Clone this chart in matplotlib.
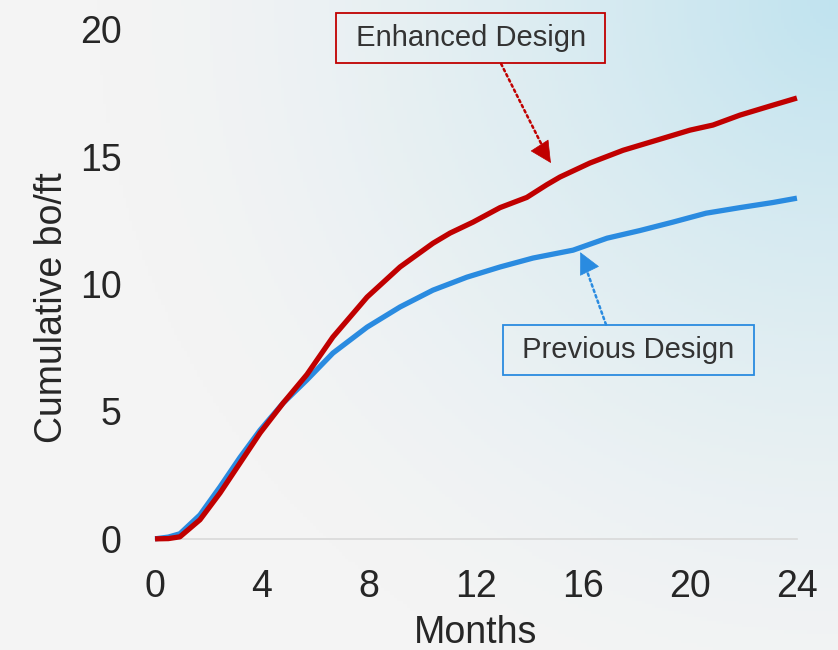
import numpy as np
import matplotlib.pyplot as plt
from matplotlib.colors import to_rgb

# cumulative production (months, bo/ft)
enh_months = [0, 0.5, 0.93, 1.68, 2.43, 3.18, 3.93, 4.79, 5.68, 6.65, 7.93, 9.16, 10.39, 11.03, 11.89,
              12.9, 13.9, 14.65, 15.14, 16.26, 17.5, 18.77, 20.0, 20.86, 21.87, 23.1, 24]
enhanced = [0, 0.01, 0.08, 0.75, 1.8, 2.98, 4.16, 5.33, 6.45, 7.92, 9.49, 10.67, 11.6, 12.0, 12.43,
            13.0, 13.4, 13.9, 14.2, 14.75, 15.25, 15.65, 16.04, 16.24, 16.63, 17.02, 17.3]
prev_months = [0, 0.5, 0.93, 1.68, 2.43, 3.18, 3.93, 4.79, 5.68, 6.65, 7.93, 9.16, 10.39, 11.66,
               12.9, 14.13, 15.63, 16.9, 18.13, 19.36, 20.6, 21.87, 23.1, 24]
previous = [0, 0.07, 0.2, 0.94, 2.04, 3.2, 4.27, 5.33, 6.24, 7.29, 8.31, 9.1, 9.76, 10.27,
            10.67, 11.02, 11.33, 11.8, 12.1, 12.43, 12.78, 13.0, 13.2, 13.37]

RED = '#C00000'
BLUE = '#2A8BE0'

plt.rcParams['font.family'] = ['Liberation Sans', 'DejaVu Sans']

fig = plt.figure(figsize=(8.38, 6.5), dpi=100)

# background: light grey with a blue tint in the top right corner
bg = fig.add_axes([0, 0, 1, 1], zorder=-10)
yy, xx = np.mgrid[0:1:200j, 0:1:260j]
d = np.sqrt(((1 - xx) * 1.3) ** 2 + (yy * 1.0) ** 2)
t = np.clip(1 - d / 1.15, 0, 1) ** 1.5
c0 = np.array(to_rgb('#f4f4f4'))
c1 = np.array(to_rgb('#c0e3ef'))
img = c0[None, None, :] * (1 - t[..., None]) + c1[None, None, :] * t[..., None]
bg.imshow(img, aspect='auto', extent=[0, 1, 0, 1], origin='upper')
bg.axis('off')

ax = fig.add_axes([0.185, 0.171, 0.766, 0.784])
ax.patch.set_alpha(0)

ax.plot(prev_months, previous, color=BLUE, lw=3.8, clip_on=False, solid_capstyle='butt',
        solid_joinstyle='round', zorder=3)
ax.plot(enh_months, enhanced, color=RED, lw=3.8, clip_on=False, solid_capstyle='butt',
        solid_joinstyle='round', zorder=4)

ax.set_xlim(0, 24)
ax.set_ylim(0, 20)
ax.set_xticks(range(0, 25, 4))
ax.set_yticks(range(0, 21, 5))
for s in ['top', 'right', 'left']:
    ax.spines[s].set_visible(False)
ax.spines['bottom'].set_color('#d9d9d9')
ax.spines['bottom'].set_linewidth(1.2)
ax.tick_params(length=0, labelsize=27, colors='#262626')
ax.tick_params(axis='x', pad=22)
ax.tick_params(axis='y', pad=24)

ax.set_xlabel('Months', fontsize=27, color='#262626', labelpad=7)
ax.set_ylabel('Cumulative bo/ft', fontsize=27, color='#262626')
ax.yaxis.set_label_coords(-0.132, 0.453)


def callout(text, color, box_xy, tip_xy, relpos):
    # box with a dotted leader; the head is drawn separately so it stays solid
    ax.annotate(text, xy=tip_xy, xytext=box_xy,
                fontsize=21, color='#333333', ha='center', va='center',
                bbox=dict(boxstyle='square,pad=0.38', fc='none', ec=color, lw=1.3),
                arrowprops=dict(arrowstyle='-', color=color, ls=(0, (1, 1.3)), lw=1.8,
                                shrinkA=0, shrinkB=6, relpos=relpos),
                annotation_clip=False)
    p_tip = ax.transData.transform(tip_xy)
    p_box = ax.transData.transform(box_xy)
    ang = np.arctan2(p_box[1] - p_tip[1], p_box[0] - p_tip[0])
    p_back = p_tip + 14 * np.array([np.cos(ang), np.sin(ang)])
    back_xy = ax.transData.inverted().transform(p_back)
    ax.annotate('', xy=tip_xy, xytext=back_xy,
                arrowprops=dict(arrowstyle='-|>,head_length=0.9,head_width=0.45', color=color,
                                lw=0.5, shrinkA=0, shrinkB=0, mutation_scale=16),
                annotation_clip=False)


callout(' Enhanced Design ', RED, (11.8, 19.65), (14.8, 14.75), (0.6, 0))
callout(' Previous Design ', BLUE, (17.7, 7.4), (15.9, 11.25), (0.42, 1))

fig.savefig('out.png', dpi=100)
